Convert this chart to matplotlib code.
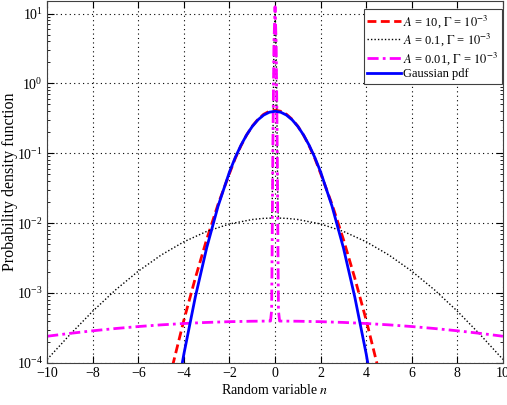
import matplotlib
matplotlib.use("Agg")
import matplotlib.pyplot as plt
from matplotlib.ticker import LogLocator, NullFormatter

plt.rcParams['font.family'] = ['Liberation Serif', 'DejaVu Serif']
plt.rcParams['mathtext.fontset'] = 'stix'

# Gaussian pdf (blue)
x_gauss = [-4.5, -4.0, -3.5, -3.0, -2.5, -2.0, -1.75, -1.5, -1.25, -1.0, -0.75, -0.5, -0.25, 0.0,
           0.25, 0.5, 0.75, 1.0, 1.25, 1.5, 1.75, 2.0, 2.5, 3.0, 3.5, 4.0, 4.5]
y_gauss = [1.6e-5, 1.34e-4, 8.73e-4, 4.43e-3, 1.75e-2, 5.40e-2, 8.63e-2, 0.1295, 0.1826, 0.242,
           0.3011, 0.352, 0.3867, 0.399,
           0.3867, 0.352, 0.3011, 0.242, 0.1826, 0.1295, 8.63e-2, 5.40e-2, 1.75e-2, 4.43e-3,
           8.73e-4, 1.34e-4, 1.6e-5]

# A = 10, Gamma = 1e-3 (red dashed)
x_a10 = [-4.5, -4.0, -3.5, -3.0, -2.5, -2.0, -1.75, -1.5, -1.25, -1.0, -0.75, -0.5, -0.25, 0.0,
         0.25, 0.5, 0.75, 1.0, 1.25, 1.5, 1.75, 2.0, 2.5, 3.0, 3.5, 4.0, 4.5]
y_a10 = [9.0e-5, 4.09e-4, 1.63e-3, 5.85e-3, 1.86e-2, 5.14e-2, 8.40e-2, 0.127, 0.182, 0.244,
         0.306, 0.361, 0.399, 0.414,
         0.399, 0.361, 0.306, 0.244, 0.182, 0.127, 8.40e-2, 5.14e-2, 1.86e-2, 5.85e-3,
         1.63e-3, 4.09e-4, 9.0e-5]

# A = 0.1, Gamma = 1e-3 (black dotted)
x_a01 = [-10, -9, -8, -7, -6, -5, -4, -3, -2, -1, -0.5, -0.2, -0.15, -0.125, -0.1, -0.05, 0.0,
         0.05, 0.1, 0.125, 0.15, 0.2, 0.5, 1, 2, 3, 4, 5, 6, 7, 8, 9, 10]
y_a01 = [1.12e-4, 2.54e-4, 5.49e-4, 1.107e-3, 2.054e-3, 3.49e-3, 5.41e-3, 7.61e-3, 9.73e-3,
         1.127e-2, 1.170e-2, 1.18e-2, 1.197e-2, 1.64e-2, 8.84e-2, 3.28, 11.43,
         3.28, 8.84e-2, 1.64e-2, 1.197e-2, 1.18e-2, 1.170e-2, 1.127e-2, 9.73e-3, 7.61e-3,
         5.41e-3, 3.49e-3, 2.054e-3, 1.107e-3, 5.49e-4, 2.54e-4, 1.12e-4]

# A = 0.01, Gamma = 1e-3 (magenta dash-dot)
x_a001 = [-10, -9, -8, -7, -6, -5, -4, -3, -2, -1, -0.5, -0.2, -0.15, -0.125, -0.1, -0.05, 0.0,
          0.05, 0.1, 0.125, 0.15, 0.2, 0.5, 1, 2, 3, 4, 5, 6, 7, 8, 9, 10]
y_a001 = [2.405e-4, 2.644e-4, 2.879e-4, 3.103e-4, 3.312e-4, 3.500e-4, 3.661e-4, 3.792e-4,
          3.887e-4, 3.946e-4, 3.96e-4, 3.966e-4, 5.6e-4, 5.4e-3, 8.41e-2, 3.58, 12.5,
          3.58, 8.41e-2, 5.4e-3, 5.6e-4, 3.966e-4, 3.96e-4, 3.946e-4, 3.887e-4, 3.792e-4,
          3.661e-4, 3.500e-4, 3.312e-4, 3.103e-4, 2.879e-4, 2.644e-4, 2.405e-4]

x_ticks = [-10, -8, -6, -4, -2, 0, 2, 4, 6, 8, 10]

fig = plt.figure(figsize=(5.07, 4.05), dpi=100)
ax = fig.add_axes([0.093, 0.104, 0.899, 0.893])

ax.plot(x_a10, y_a10, color='#ff0000', ls=(0, (3.2, 1.6)), lw=2,
        label=r'$A$ = 10, $\Gamma$ = $10^{-3}$')
ax.plot(x_a01, y_a01, color='k', ls=(0, (1, 1.5)), lw=1,
        label=r'$A$ = 0.1, $\Gamma$ = $10^{-3}$')
ax.plot(x_a001, y_a001, color='#ff00ff', ls=(0, (4, 1.5, 1, 1.5)), lw=2,
        label=r'$A$ = 0.01, $\Gamma$ = $10^{-3}$')
ax.plot(x_gauss, y_gauss, color='#0000ff', lw=2, label='Gaussian pdf')

ax.set_yscale('log')
ax.set_xlim(-10, 10)
ax.set_ylim(1e-4, 15)
ax.set_xticks(x_ticks)
ax.set_xticklabels([str(t).replace('-', '\u2212') for t in x_ticks])
ax.yaxis.set_major_locator(LogLocator(base=10, numticks=10))
ax.yaxis.set_minor_locator(LogLocator(base=10, subs=range(2, 10), numticks=20))
ax.yaxis.set_minor_formatter(NullFormatter())

ax.grid(True, which='major', color='k', ls=(0, (1, 3)), lw=0.8)
ax.tick_params(which='both', direction='in', top=True, right=True, labelsize=10, pad=3)
ax.tick_params(which='major', length=5)
ax.tick_params(which='minor', length=2.5)
for s in ax.spines.values():
    s.set_color('#404040')

ax.set_xlabel(r'Random variable $n$', fontsize=10, labelpad=2)
ax.set_ylabel('Probability density function', fontsize=11.5)
ax.yaxis.set_label_coords(-0.064, 0.5)

leg = ax.legend(loc='upper right', bbox_to_anchor=(0.997, 0.978), borderaxespad=0,
                fontsize=9, handlelength=2.7, handletextpad=0.15, borderpad=0.3,
                labelspacing=0.15, fancybox=False, framealpha=1)
leg.get_frame().set_edgecolor('#404040')
leg.get_frame().set_linewidth(0.8)

fig.savefig('out.png', dpi=100)
